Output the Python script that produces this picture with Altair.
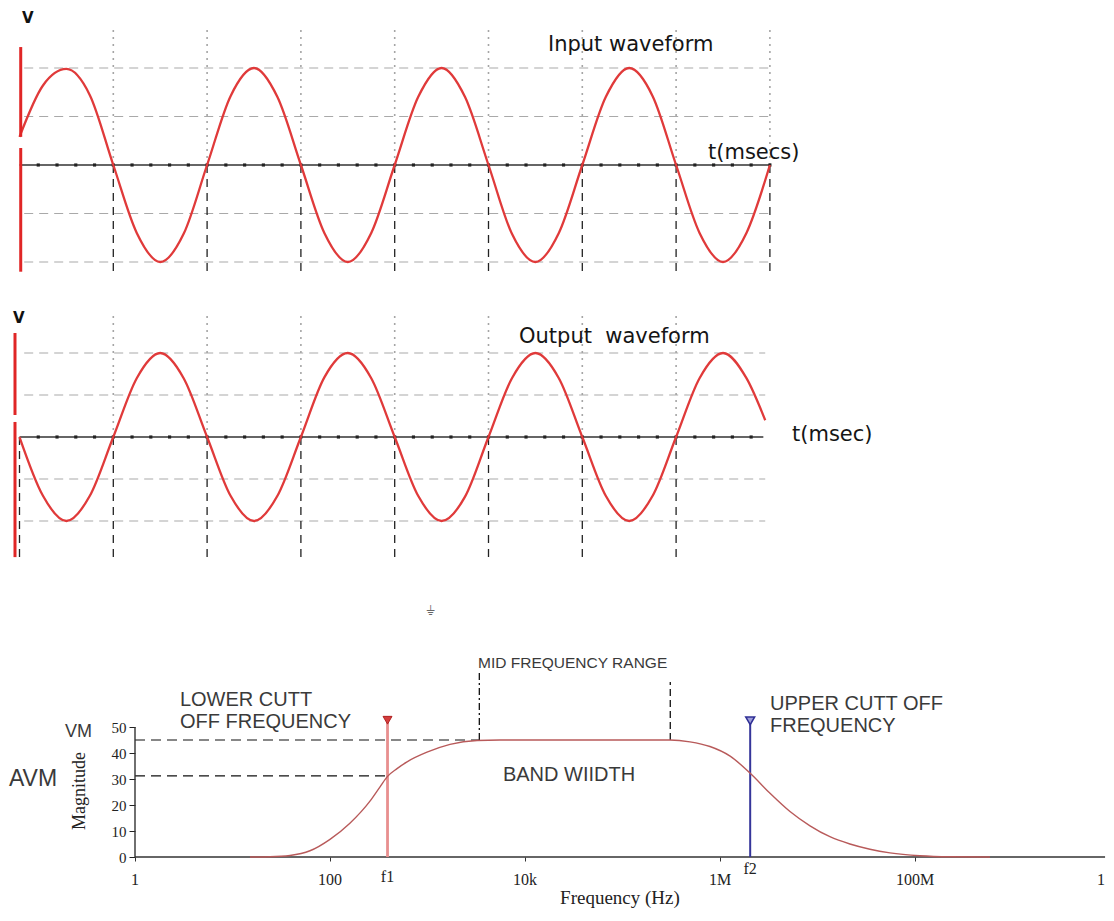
import altair as alt
import pandas as pd

# ---------------- waveform data (time in grid divisions, value in peak units)
IN_T = [0, 0.25, 0.5, 0.75, 1, 1.25, 1.5, 1.75, 2, 2.25, 2.5, 2.75, 3, 3.25, 3.5, 3.75,
        4, 4.25, 4.5, 4.75, 5, 5.25, 5.5, 5.75, 6, 6.25, 6.5, 6.75, 7, 7.25, 7.5, 7.75, 8]
IN_V = [0.29, 0.82, 0.99, 0.72, 0, -0.7, -1, -0.71, 0, 0.71, 1, 0.7, 0, -0.7, -1, -0.7,
        0, 0.7, 1, 0.7, 0, -0.71, -1, -0.7, 0, 0.7, 1, 0.71, 0, -0.7, -1, -0.7, 0]
OUT_T = [0, 0.25, 0.5, 0.75, 1, 1.25, 1.5, 1.75, 2, 2.25, 2.5, 2.75, 3, 3.25, 3.5, 3.75,
         4, 4.25, 4.5, 4.75, 5, 5.25, 5.5, 5.75, 6, 6.25, 6.5, 6.75, 7, 7.25, 7.5, 7.75, 7.95]
OUT_V = [0, -0.7, -1, -0.7, 0, 0.7, 1, 0.7, 0, -0.7, -1, -0.7, 0, 0.71, 1, 0.7,
         0, -0.7, -1, -0.71, 0, 0.7, 1, 0.7, 0, -0.7, -1, -0.7, 0, 0.7, 1, 0.7, 0.2]
GRID_LEVELS = [1, 0.5, -0.5, -1]
IN_DIVS = [1, 2, 3, 4, 5, 6, 7, 8]
OUT_DIVS_UP = [1, 2, 3, 4, 5, 6, 7]
OUT_DIVS_DOWN = [0, 1, 2, 3, 4, 5, 6, 7]

# ---------------- frequency response data
FREQ = [15.1, 24.2, 38.9, 62.3, 100, 160, 257, 326, 389, 487, 617, 988, 1702, 3220, 5540,
        307000, 492000, 789000, 1.27e6, 2.03e6, 3.26e6, 5.22e6, 8.38e6, 1.34e7, 2.15e7,
        3.45e7, 5.54e7, 1.12e8, 2.29e8, 5.87e8]
MAG = [0, 0.1, 0.6, 2.4, 6.8, 13, 21.5, 27, 31, 34, 36.6, 40.3, 43.3, 44.8, 45,
       45, 44.3, 42.5, 38.8, 32.3, 24.5, 17.5, 12, 7.8, 5,
       3, 1.6, 0.5, 0.1, 0]
F1 = 389
F2 = 2.04e6
VM = 45
AVM = 31.2
MID_LO = 3400
MID_HI = 309000
XTICK_F = [1, 100, 1e4, 1e6, 1e8, 8.1e9]
XTICK_LABELS = ["1", "100", "10k", "1M", "100M", "1"]
YTICKS = [0, 10, 20, 30, 40, 50]

# ---------------- layout (scale domains chosen so the panels fill the page)
W = 1098
H1, H2, H3 = 282, 290, 328
T_DOM = [(8 - 19.5) / 93.8, (1106 - 19.5) / 93.8]
Y1_DOM = [(165 - 290) / 97, (165 - 8) / 97]
Y2_DOM = [(437 - 580) / 84, (437 - 290) / 84]
F_DOM = [10 ** ((8 - 135) / 97.5), 10 ** ((1106 - 135) / 97.5)]
M_DOM = [(857 - 908) / 2.6, (857 - 580) / 2.6]

SANS = "DejaVu Sans"
ARIAL = "Liberation Sans"
SERIF = "Liberation Serif"


def wave_panel(t, v, y_dom, h, divs_up, divs_down, grid_end, axis_end, top_v,
               bottom_v, bar_t, bar_segs, v_label, title, title_pos, tlabel, tlabel_pos):
    X = lambda f: alt.X(f, type="quantitative",
                        scale=alt.Scale(domain=T_DOM, nice=False, zero=False), axis=None)
    Y = lambda f: alt.Y(f, type="quantitative",
                        scale=alt.Scale(domain=y_dom, nice=False, zero=False), axis=None)
    grid = alt.Chart(pd.DataFrame({"v": GRID_LEVELS, "t0": 0.05, "t1": grid_end})).mark_rule(
        color="#a9a9a9", strokeDash=[9, 6], strokeWidth=1.1
    ).encode(x=X("t0"), x2="t1", y=Y("v"))
    dotted = alt.Chart(pd.DataFrame({"t": divs_up, "v0": 0.0, "v1": top_v})).mark_rule(
        color="#a5a5a5", strokeDash=[2, 5], strokeWidth=1.6
    ).encode(x=X("t"), y=Y("v0"), y2="v1")
    dashed = alt.Chart(pd.DataFrame({"t": divs_down, "v0": 0.0, "v1": bottom_v})).mark_rule(
        color="#222222", strokeDash=[8, 6], strokeWidth=1.3
    ).encode(x=X("t"), y=Y("v0"), y2="v1")
    zero = alt.Chart(pd.DataFrame({"t0": [0.0], "t1": [axis_end], "v": [0.0]})).mark_rule(
        color="#333333", strokeWidth=1.6
    ).encode(x=X("t0"), x2="t1", y=Y("v"))
    ticks = [round(0.2 * k, 1) for k in range(1, 41) if 0.2 * k <= axis_end + 1e-9]
    dots = alt.Chart(pd.DataFrame({"t": ticks, "v": 0.0})).mark_square(
        size=10, color="#222222", opacity=1
    ).encode(x=X("t"), y=Y("v"))
    bar = alt.Chart(pd.DataFrame({"t": bar_t, "v0": [s[0] for s in bar_segs],
                                  "v1": [s[1] for s in bar_segs]})).mark_rule(
        color="#e02626", strokeWidth=3
    ).encode(x=X("t"), y=Y("v0"), y2="v1")
    curve = alt.Chart(pd.DataFrame({"t": t, "v": v})).mark_line(
        color="#e03a3a", strokeWidth=2.3, interpolate="monotone"
    ).encode(x=X("t"), y=Y("v"))
    vtxt = alt.Chart(pd.DataFrame({"t": [v_label[0]], "v": [v_label[1]], "s": ["V"]})).mark_text(
        font=SANS, fontSize=15, fontWeight="bold", align="left", baseline="middle", color="#111111"
    ).encode(x=X("t"), y=Y("v"), text="s:N")
    ttl = alt.Chart(pd.DataFrame({"t": [title_pos[0], tlabel_pos[0]],
                                  "v": [title_pos[1], tlabel_pos[1]],
                                  "s": [title, tlabel]})).mark_text(
        font=SANS, fontSize=21, align="left", baseline="middle", color="#151515"
    ).encode(x=X("t"), y=Y("v"), text="s:N")
    return alt.layer(grid, dotted, dashed, zero, dots, curve, bar, vtxt, ttl).properties(
        width=W, height=h)


p1 = wave_panel(IN_T, IN_V, Y1_DOM, H1, IN_DIVS, IN_DIVS, 8, 8, 1.443, -1.103,
                [0.013, 0.013], [(1.216, 0.29), (0.175, -1.10)],
                (0.027, 1.515), "Input waveform", (5.634, 1.237),
                "t(msecs)", (7.34, 0.124))
p2 = wave_panel(OUT_T, OUT_V, Y2_DOM, H2, OUT_DIVS_UP, OUT_DIVS_DOWN, 7.95, 7.93, 1.452, -1.43,
                [-0.048, -0.048], [(1.238, 0.262), (0.179, -1.43)],
                (-0.069, 1.417), "Output\u00a0 waveform", (5.325, 1.19),
                "t(msec)", (8.236, 0.024))

# ---------------- frequency response panel
AX3 = alt.Axis(values=[1, 100, 1e4, 1e6, 1e8], labels=False, domain=False, grid=False,
               offset=-51, tickSize=4, tickColor="#333333", title=None)
AY3 = alt.Axis(values=YTICKS, domain=False, grid=False, offset=-127, tickSize=6,
               tickColor="#222222", labelFont=SERIF, labelFontSize=15, labelColor="#222222",
               labelPadding=3, title=None)
FX = lambda f: alt.X(f, type="quantitative",
                     scale=alt.Scale(type="log", domain=F_DOM, nice=False), axis=AX3)
MY = lambda f: alt.Y(f, type="quantitative",
                     scale=alt.Scale(domain=M_DOM, nice=False, zero=False), axis=AY3)

xaxis = alt.Chart(pd.DataFrame({"f0": [1.0], "f1": [8.9e9], "m": [0.0]})).mark_rule(
    color="#333333", strokeWidth=1.4).encode(x=FX("f0"), x2="f1", y=MY("m"))
yaxis = alt.Chart(pd.DataFrame({"f": [1.0], "m0": [0.0], "m1": [50.0]})).mark_rule(
    color="#333333", strokeWidth=1.4).encode(x=FX("f"), y=MY("m0"), y2="m1")
hdash = alt.Chart(pd.DataFrame({"f0": [1.0, 1.0], "f1": [MID_LO, F1], "m": [VM, AVM]})).mark_rule(
    color="#111111", strokeDash=[10, 6], strokeWidth=1.2).encode(x=FX("f0"), x2="f1", y=MY("m"))
mid_lo = alt.Chart(pd.DataFrame({"f": [MID_LO], "m0": [VM], "m1": [70.8]})).mark_rule(
    color="#111111", strokeDash=[7, 3, 2, 3], strokeWidth=1.3).encode(x=FX("f"), y=MY("m0"), y2="m1")
mid_hi = alt.Chart(pd.DataFrame({"f": [MID_HI], "m0": [VM], "m1": [67.3]})).mark_rule(
    color="#111111", strokeDash=[7, 4], strokeWidth=1.3).encode(x=FX("f"), y=MY("m0"), y2="m1")
curve3 = alt.Chart(pd.DataFrame({"f": FREQ, "m": MAG})).mark_line(
    color="#b85a5a", strokeWidth=1.4, interpolate="monotone").encode(x=FX("f"), y=MY("m"))
f1line = alt.Chart(pd.DataFrame({"f": [F1], "m0": [0.0], "m1": [52.0]})).mark_rule(
    color="#e88f8f", strokeWidth=2.8).encode(x=FX("f"), y=MY("m0"), y2="m1")
f2line = alt.Chart(pd.DataFrame({"f": [F2], "m0": [0.0], "m1": [52.0]})).mark_rule(
    color="#35359a", strokeWidth=2).encode(x=FX("f"), y=MY("m0"), y2="m1")
f1tri = alt.Chart(pd.DataFrame({"f": [F1], "m": [52.6]})).mark_point(
    shape="triangle-down", filled=True, size=80, fill="#d43c3c", stroke="#b02020",
    strokeWidth=1, opacity=1).encode(x=FX("f"), y=MY("m"))
f2tri = alt.Chart(pd.DataFrame({"f": [F2], "m": [52.4]})).mark_point(
    shape="triangle-down", filled=True, size=80, fill="#9d9dd8", stroke="#2f2f95",
    strokeWidth=1.5, opacity=1).encode(x=FX("f"), y=MY("m"))

ann = pd.DataFrame({
    "f": [2.89, 2.89, 3.26e6, 3.26e6, 5940, 3300, 0.1914, 0.051],
    "m": [60.4, 51.9, 58.8, 50.4, 31.5, 74.6, 48.1, 30.0],
    "s": ["LOWER CUTT", "OFF FREQUENCY", "UPPER CUTT OFF", "FREQUENCY", "BAND WIIDTH",
          "MID FREQUENCY RANGE", "VM", "AVM"],
    "fs": [20, 20, 20, 20, 20, 15.5, 18, 23],
})
ann_txt = alt.Chart(ann).mark_text(font=ARIAL, align="left", baseline="middle",
                                   color="#3a3a3a").encode(
    x=FX("f"), y=MY("m"), text="s:N", size=alt.Size("fs:Q", scale=None))

xt = pd.DataFrame({"f": XTICK_F + [F1, F2], "m": [-8.85] * 6 + [-7.7, -4.6],
                   "s": XTICK_LABELS + ["f1", "f2"]})
xt_txt = alt.Chart(xt).mark_text(font=SERIF, fontSize=16, align="center", baseline="middle",
                                 color="#222222").encode(x=FX("f"), y=MY("m"), text="s:N")
xtitle = alt.Chart(pd.DataFrame({"f": [94200], "m": [M_DOM[0]], "s": ["Frequency (Hz)"]})).mark_text(
    font=SERIF, fontSize=19, align="center", baseline="bottom", color="#222222"
).encode(x=FX("f"), y=MY("m"), text="s:N")
ytitle = alt.Chart(pd.DataFrame({"f": [0.273], "m": [25.4], "s": ["Magnitude"]})).mark_text(
    font=SERIF, fontSize=18, align="center", baseline="middle", angle=270, color="#222222"
).encode(x=FX("f"), y=MY("m"), text="s:N")
ground = alt.Chart(pd.DataFrame({"f": [1061], "m": [94.6], "s": ["\u23da"]})).mark_text(
    font=SANS, fontSize=13, align="center", baseline="middle", color="#666666"
).encode(x=FX("f"), y=MY("m"), text="s:N")

p3 = alt.layer(hdash, mid_lo, mid_hi, xaxis, yaxis, f1line, f2line, curve3, f1tri, f2tri,
               ann_txt, xt_txt, xtitle, ytitle, ground).properties(width=W, height=H3)

chart = alt.vconcat(p1, p2, p3, spacing=0, bounds="flush").properties(
    padding=0).configure_view(strokeWidth=0)

chart.save("out.html", embed_options={"renderer": "svg", "actions": False})
